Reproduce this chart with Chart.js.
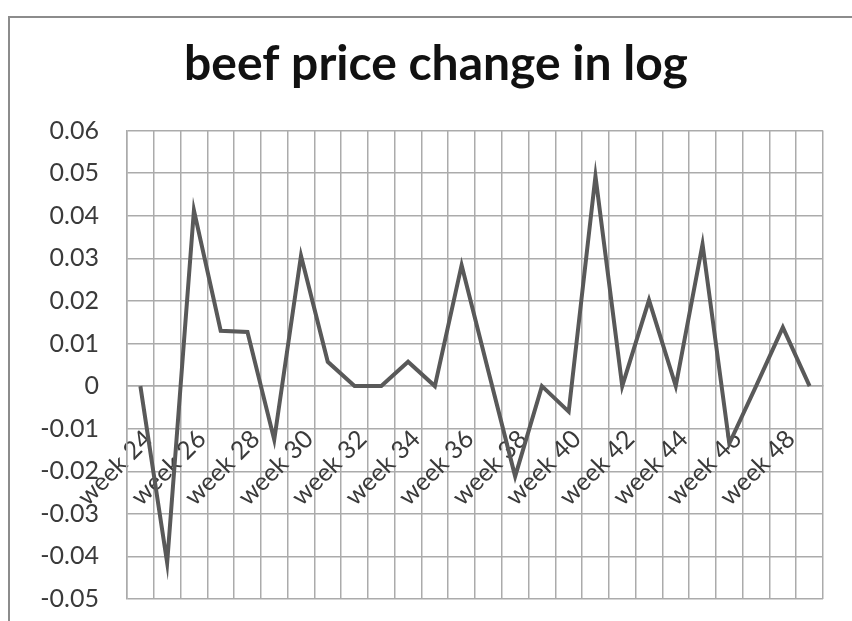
<!DOCTYPE html>
<html>
<head>
<meta charset="utf-8">
<script src="https://cdn.jsdelivr.net/npm/chart.js@4"></script>
<style>
  html, body { margin: 0; padding: 0; background: #fff; overflow: hidden; }
  #frame { position: absolute; left: 8px; top: 16px; width: 900px; height: 700px;
           border-left: 2px solid #8c8c8c; border-top: 2px solid #8c8c8c; }
  #wrap { position: absolute; left: 0; top: 0; width: 852px; height: 621px; }
</style>
</head>
<body>
<div id="frame"></div>
<div id="wrap"><canvas id="beefChart" width="852" height="621"></canvas></div>
<script>
// weeks 24..49, one point per week
const weeks = ["week 24", "week 25", "week 26", "week 27", "week 28", "week 29", "week 30",
  "week 31", "week 32", "week 33", "week 34", "week 35", "week 36", "week 37", "week 38",
  "week 39", "week 40", "week 41", "week 42", "week 43", "week 44", "week 45", "week 46",
  "week 47", "week 48", "week 49"];
const logChange = [0, -0.0415, 0.0413, 0.013, 0.0127, -0.0126, 0.0306, 0.0057, 0, 0,
  0.0057, 0, 0.0284, 0.0035, -0.0212, 0, -0.006, 0.0493, 0, 0.0202, 0, 0.0333, -0.0135,
  0, 0.0138, 0];

const gridColor = '#ababab';
const textColor = '#3a3a3a';
const noTick = 'rgba(0,0,0,0)';

// title box spans the whole canvas, nudge it so it centres like the original
const titleShift = {
  id: 'titleShift',
  afterLayout(c) { if (c.titleBlock) { c.titleBlock.left += 40; } }
};

const chart = new Chart(document.getElementById('beefChart'), {
  type: 'line',
  data: {
    labels: weeks,
    datasets: [{
      data: logChange,
      borderColor: '#595959',
      borderWidth: 4,
      pointRadius: 0,
      tension: 0,
      fill: false
    }]
  },
  options: {
    responsive: false,
    animation: false,
    layout: { padding: { left: 9, right: 29, top: 0, bottom: 22 } },
    plugins: {
      legend: { display: false },
      tooltip: { enabled: false },
      title: {
        display: true,
        text: 'beef price change in log',
        color: '#111',
        padding: { top: 36, bottom: 37 },
        font: { family: 'Lato', size: 48, weight: 'bold' }
      }
    },
    scales: {
      x: {
        position: { y: 0 },
        offset: true,
        grid: { offset: true, color: gridColor, lineWidth: 1.5, drawTicks: true, tickLength: 32, tickColor: noTick },
        border: { color: gridColor, width: 1.5 },
        ticks: {
          autoSkip: false,
          minRotation: 45,
          maxRotation: 45,
          padding: 6,
          labelOffset: 8,
          color: textColor,
          font: { family: 'Lato', size: 25 },
          callback: (v, i) => (i % 2 === 0 ? weeks[i] : '')
        }
      },
      y: {
        min: -0.05,
        max: 0.06,
        // invisible tick marks push the labels out without padding the plot bottom
        grid: { color: gridColor, lineWidth: 1.5, drawTicks: true, tickLength: 22, tickColor: noTick },
        border: { color: gridColor, width: 1.5 },
        afterFit: (s) => { s.width = 118; },
        ticks: {
          stepSize: 0.01,
          padding: 6,
          color: textColor,
          font: { family: 'Lato', size: 25 },
          callback: (v) => (Math.abs(v) < 1e-9 ? '0' : v.toFixed(2))
        }
      }
    }
  },
  plugins: [titleShift]
});
</script>
</body>
</html>
